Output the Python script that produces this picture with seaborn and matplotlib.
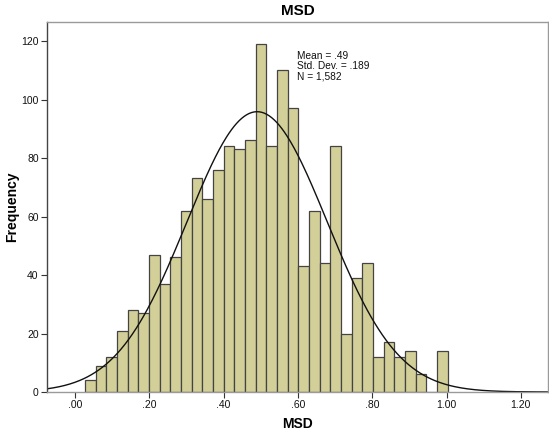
import numpy as np
import pandas as pd
import matplotlib
matplotlib.use("Agg")
import matplotlib.pyplot as plt
import seaborn as sns

# ---- data ----
counts = [4, 9, 12, 21, 28, 27, 47, 37, 46, 62,
          73, 66, 76, 84, 83, 86, 119, 84, 110, 97,
          43, 62, 44, 84, 20, 39, 44, 12, 17, 12,
          14, 6, 0, 14]
bin_start = 0.027
bin_width = 0.0287
mean_val = 0.49
sd_val = 0.189
n_total = 1582
x_ticks = [0.0, 0.2, 0.4, 0.6, 0.8, 1.0, 1.2]
x_tick_labels = [".00", ".20", ".40", ".60", ".80", "1.00", "1.20"]
y_ticks = [0, 20, 40, 60, 80, 100, 120]
stats_lines = ["Mean = .49", "Std. Dev. = .189", "N = 1,582"]

sns.set_theme(style="white")
plt.rcParams['font.family'] = ['Liberation Sans', 'DejaVu Sans']
plt.rcParams['text.color'] = '#000000'
plt.rcParams['axes.labelcolor'] = '#000000'

edges = [bin_start + bin_width * i for i in range(len(counts) + 1)]
centers = [(edges[i] + edges[i + 1]) / 2 for i in range(len(counts))]
df = pd.DataFrame({"MSD": centers, "count": counts})

fig = plt.figure(figsize=(5.49, 4.34), dpi=100)
ax = fig.add_axes([47/549, 42/434, 501/549, 370/434])

sns.histplot(data=df, x="MSD", weights="count", bins=edges, ax=ax,
             color="#D3CF98", edgecolor="#444444", linewidth=0.9, alpha=1.0)

xlim = (-0.0755, 1.273)
xs = np.linspace(xlim[0], xlim[1], 400)
ys = n_total * bin_width / (sd_val * np.sqrt(2 * np.pi)) * np.exp(-0.5 * ((xs - mean_val) / sd_val) ** 2)
sns.lineplot(x=xs, y=ys, ax=ax, color="#111111", linewidth=1.0)

ax.set_xlim(*xlim)
ax.set_ylim(0, 126.5)
ax.set_xticks(x_ticks)
ax.set_xticklabels(x_tick_labels)
ax.set_yticks(y_ticks)
ax.tick_params(axis="both", which="both", direction="out", length=4, width=0.8,
               labelsize=7.5, colors="#333333", labelcolor="#111111", pad=2,
               bottom=True, left=True)

for side in ["top", "right", "bottom"]:
    ax.spines[side].set_color("#9a9a9a")
    ax.spines[side].set_linewidth(1.0)
ax.spines["left"].set_color("#444444")
ax.spines["left"].set_linewidth(1.0)

ax.set_xlabel("MSD", fontsize=10, fontweight="bold", va="center", color="#000000")
ax.set_ylabel("Frequency", fontsize=10, fontweight="bold", va="center", color="#000000")
ax.xaxis.set_label_coords(0.5, -32/370)
ax.yaxis.set_label_coords(-35/501, 0.5)
ax.set_title("MSD", fontsize=11, fontweight="bold", pad=5, color="#000000")

ax.text(0.598, 116.5, "\n".join(stats_lines), fontsize=7.3, va="top", ha="left",
        linespacing=1.0, color="#111111")

fig.savefig("out.png", dpi=100)
